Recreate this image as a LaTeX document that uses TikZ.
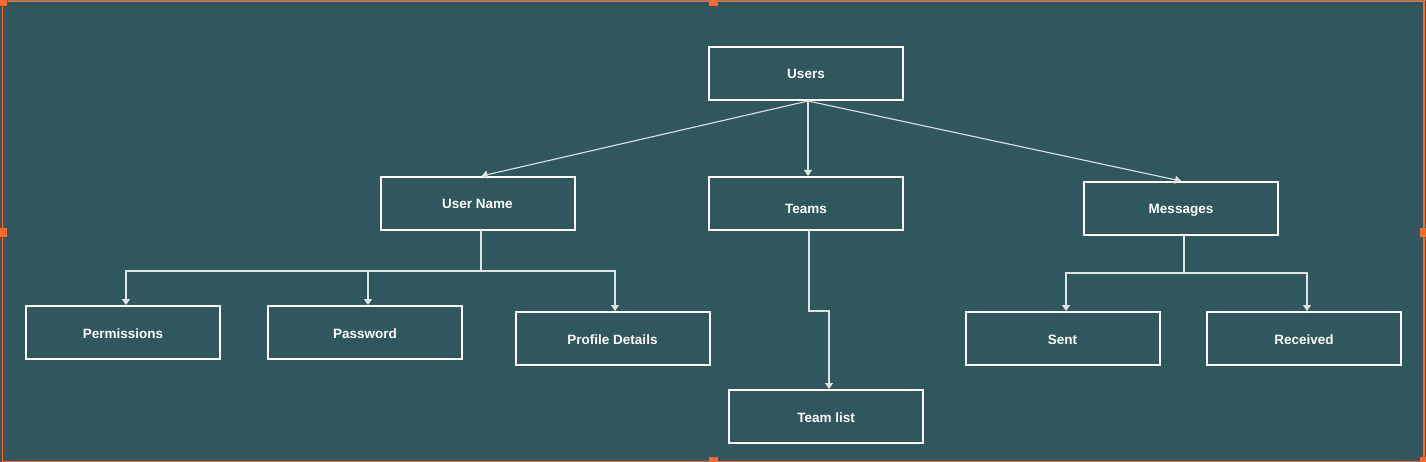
\documentclass[tikz,border=0pt]{standalone}
\usepackage{fontspec}
\setmainfont{Liberation Sans}
\usetikzlibrary{arrows.meta}
\definecolor{bgteal}{RGB}{47,87,93}
\definecolor{handle}{RGB}{255,106,43}
\definecolor{conn}{RGB}{222,228,229}
\tikzset{
  entity/.style={draw=white, line width=2pt, minimum width=194pt, minimum height=53pt,
    inner sep=0pt, text=white, text height=14pt, text depth=3pt,
    font=\fontsize{13.5}{16}\selectfont\bfseries},
  link/.style={draw=conn, line width=1.1pt, -{Triangle[width=8pt,length=6pt]}},
  handlebox/.style={fill=handle, draw=none}
}
\begin{document}
\begin{tikzpicture}[x=1pt,y=-1pt]
\fill[bgteal] (0,0) rectangle (1426,462);
\useasboundingbox (0,0) rectangle (1426,462);
% frame
\draw[handle, line width=1.5pt] (2.5,1.5) rectangle (1424,462);
\draw[gray, line width=0.8pt] (8,0.6) -- (1426,0.6);
% handles
\fill[handlebox] (0,0) rectangle (7,6);
\fill[handlebox] (709,0) rectangle (718,6);
\fill[handlebox] (0,228) rectangle (7,237);
\fill[handlebox] (1420,228) rectangle (1426,237);
\fill[handlebox] (709,457) rectangle (718,462);
\fill[handlebox] (1420,457) rectangle (1426,462);

% nodes
\node[entity] (users) at (806,73.5) {Users};
\node[entity] (un) at (477.5,203.5) {User Name};
\node[entity, text height=24pt] (teams) at (806,203.5) {Teams};
\node[entity] (msg) at (1181,208.5) {Messages};
\node[entity] (perm) at (123,332.5) {Permissions};
\node[entity] (pw) at (365,332.5) {Password};
\node[entity] (pd) at (612.5,338.5) {Profile Details};
\node[entity] (tl) at (826,416.5) {Team list};
\node[entity] (sent) at (1062.5,338.5) {Sent};
\node[entity] (recv) at (1304,338.5) {Received};

% coordinates
\coordinate (usrc) at ([xshift=2pt]users.south);
\coordinate (unbus) at ([xshift=3.5pt,yshift=-40pt]un.south);
\coordinate (tmbend) at ([xshift=3pt,yshift=-80pt]teams.south);
\coordinate (msbus) at ([xshift=3pt,yshift=-37pt]msg.south);

% connectors
\draw[link] (usrc) -- ([xshift=4pt]un.north);
\draw[link] (usrc) -- ([xshift=2pt]teams.north);
\draw[link] (usrc) -- (msg.north);

\draw[conn, line width=1.1pt] ([xshift=3.5pt]un.south) -- (unbus);
\draw[link] (unbus) -| ([xshift=3pt]perm.north);
\draw[link] (unbus) -| ([xshift=3pt]pw.north);
\draw[link] (unbus) -| ([xshift=2.5pt]pd.north);

\draw[link] ([xshift=3pt]teams.south) -- (tmbend) -| ([xshift=3pt]tl.north);

\draw[conn, line width=1.1pt] ([xshift=3pt]msg.south) -- (msbus);
\draw[link] (msbus) -| ([xshift=3.5pt]sent.north);
\draw[link] (msbus) -| ([xshift=3pt]recv.north);
\end{tikzpicture}
\end{document}
